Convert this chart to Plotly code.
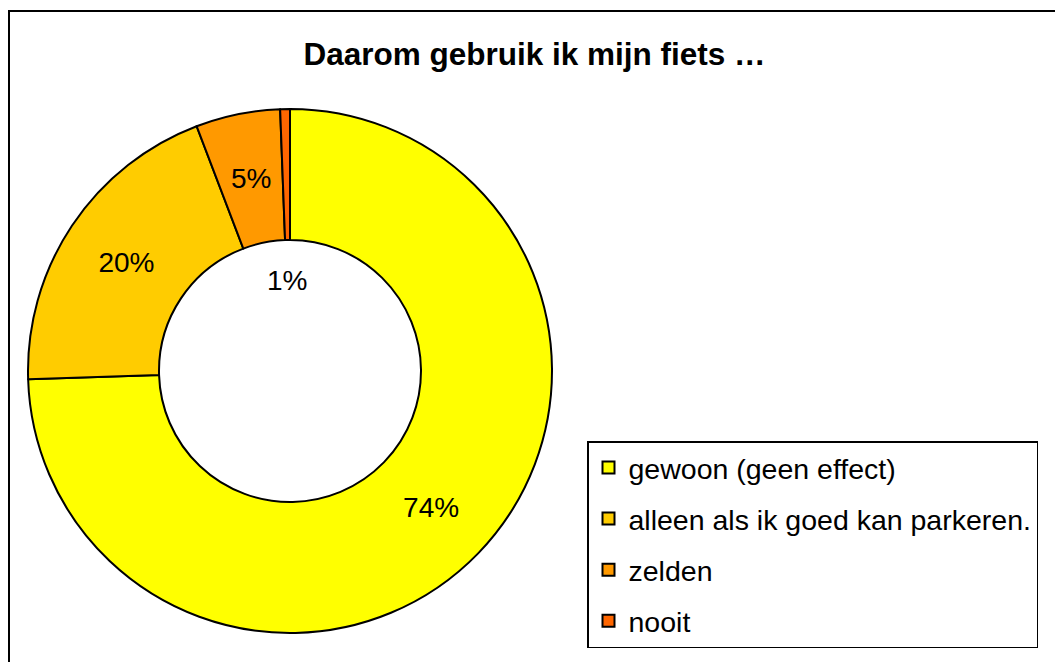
import math
import plotly.graph_objects as go

categories = ["gewoon (geen effect)", "alleen als ik goed kan parkeren.", "zelden", "nooit"]
values = [74.5, 19.7, 5.2, 0.6]
colors = ["#FFFF00", "#FFCC00", "#FF9900", "#FF6600"]

W, H = 1063, 662
# page is drawn with an 8px body margin, so positions are shifted back
cx, cy, r = 282, 363, 262
hole = 0.5

total = sum(values)
labels_txt = ["{}%".format(round(v / total * 100)) for v in values]
# the two small slices get their labels as annotations, like the original
slice_text = labels_txt[:2] + ["", ""]

fig = go.Figure()
fig.add_trace(go.Pie(
    labels=categories,
    values=values,
    text=slice_text,
    textinfo="text",
    textposition="inside",
    insidetextorientation="horizontal",
    textfont=dict(family="Arial, Liberation Sans", size=28, color="black"),
    marker=dict(colors=colors, line=dict(color="black", width=2)),
    hole=hole,
    sort=False,
    direction="clockwise",
    rotation=0,
    showlegend=False,
    hoverinfo="label+percent",
    domain=dict(x=[(cx - r) / W, (cx + r) / W], y=[1 - (cy + r) / H, 1 - (cy - r) / H]),
))

# legend entries
for k in range(len(categories)):
    fig.add_trace(go.Scatter(
        x=[None], y=[None], mode="markers", name=categories[k],
        legendgroup=categories[k],
        marker=dict(symbol="square", size=15, color=colors[k], line=dict(color="black", width=1.5)),
    ))

# "5%" at mid-ring of its slice
cum = sum(values[:2]) + values[2] / 2
ang = cum / total * 2 * math.pi
rm = r * (1 + hole) / 2
fig.add_annotation(text=labels_txt[2], x=(cx + rm * math.sin(ang)) / W, y=1 - (cy - rm * math.cos(ang)) / H,
                   xref="paper", yref="paper", xanchor="center", yanchor="middle", showarrow=False,
                   font=dict(family="Arial, Liberation Sans", size=28, color="black"))
# "1%" sits in the hole
fig.add_annotation(text=labels_txt[3], x=279 / W, y=1 - 272 / H, xref="paper", yref="paper",
                   xanchor="center", yanchor="middle", showarrow=False,
                   font=dict(family="Arial, Liberation Sans", size=28, color="black"))

fig.add_shape(type="rect", xref="paper", yref="paper", x0=1 / W, x1=1.02, y0=-0.02, y1=1 - 3 / H,
              line=dict(color="black", width=2))

fig.update_layout(
    width=W, height=H,
    margin=dict(l=0, r=0, t=0, b=0),
    paper_bgcolor="white", plot_bgcolor="white",
    title=dict(text="<b>Daarom gebruik ik mijn fiets …</b>", x=526.5 / W, xanchor="center",
               y=1 - 46 / H, yanchor="middle",
               font=dict(family="Arial, Liberation Sans", size=31.5, color="black")),
    xaxis=dict(visible=False), yaxis=dict(visible=False),
    legend=dict(x=579 / W, y=1 - 433 / H, xanchor="left", yanchor="top",
                bordercolor="black", borderwidth=1.5, bgcolor="white",
                tracegroupgap=11, itemsizing="constant",
                font=dict(family="Arial, Liberation Sans", size=28.5, color="black")),
)

fig.write_html("out.html")
